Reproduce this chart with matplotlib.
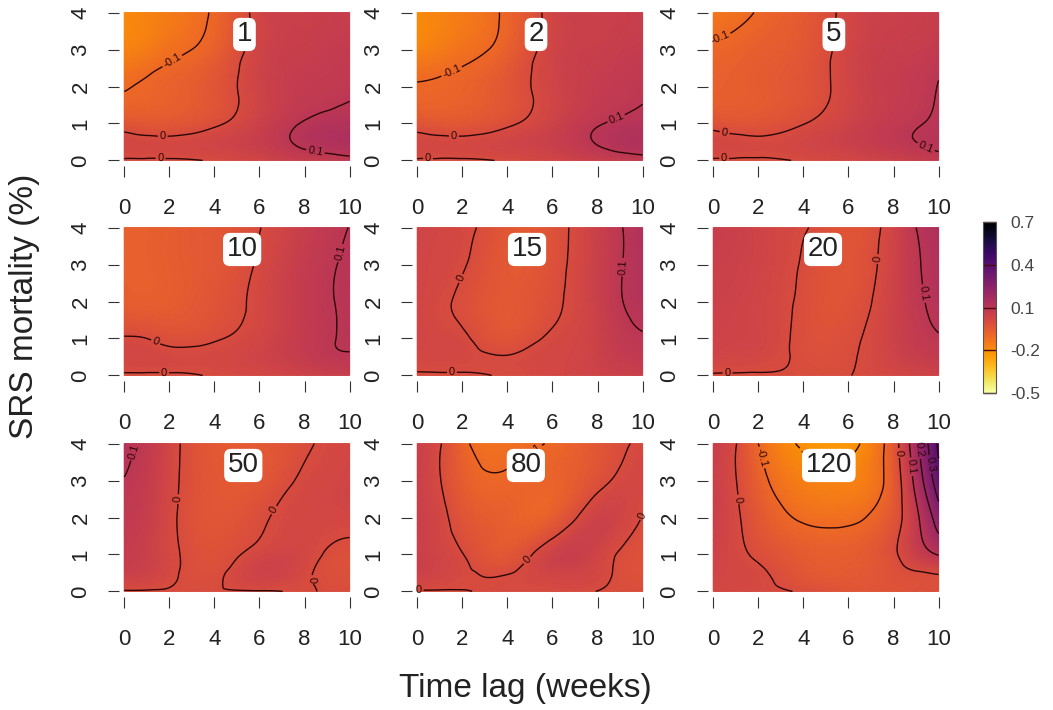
import matplotlib
matplotlib.use("Agg")
import matplotlib.pyplot as plt
import matplotlib.tri as mtri
import numpy as np

plt.rcParams['font.family'] = ['Liberation Sans', 'DejaVu Sans']

# sampling grid of the fitted surface
lag_weeks = [0, 1, 2, 4, 6, 8, 9, 10]
mortality = [4, 3, 2, 1, 0.5, 0]  # rows, top to bottom

effect_1 = [
    [-0.19, -0.17, -0.15, -0.09, 0.025, 0.05, 0.06, 0.06],
    [-0.17, -0.15, -0.12, -0.07, 0.03, 0.06, 0.07, 0.075],
    [-0.105, -0.09, -0.075, -0.035, 0.035, 0.075, 0.08, 0.09],
    [-0.03, -0.04, -0.04, -0.01, 0.045, 0.105, 0.12, 0.125],
    [0.02, 0.015, 0.015, 0.03, 0.06, 0.115, 0.13, 0.14],
    [-0.006, -0.006, -0.006, 0.004, 0.03, 0.06, 0.07, 0.08],
]
effect_2 = [
    [-0.19, -0.17, -0.15, -0.085, 0.025, 0.05, 0.055, 0.06],
    [-0.17, -0.15, -0.125, -0.07, 0.03, 0.055, 0.065, 0.07],
    [-0.095, -0.09, -0.08, -0.035, 0.03, 0.07, 0.08, 0.09],
    [-0.03, -0.04, -0.04, -0.01, 0.04, 0.095, 0.11, 0.12],
    [0.02, 0.015, 0.015, 0.03, 0.055, 0.105, 0.125, 0.135],
    [-0.006, -0.006, -0.006, 0.004, 0.025, 0.055, 0.065, 0.075],
]
effect_5 = [
    [-0.14, -0.12, -0.095, -0.05, 0.02, 0.05, 0.055, 0.06],
    [-0.09, -0.08, -0.065, -0.04, 0.025, 0.06, 0.065, 0.08],
    [-0.07, -0.065, -0.055, -0.03, 0.025, 0.07, 0.08, 0.102],
    [-0.02, -0.03, -0.03, -0.002, 0.04, 0.08, 0.095, 0.11],
    [0.02, 0.015, 0.01, 0.025, 0.05, 0.085, 0.1, 0.115],
    [-0.006, -0.006, -0.006, 0.004, 0.02, 0.045, 0.06, 0.075],
]
effect_10 = [
    [-0.07, -0.07, -0.06, -0.04, -0.002, 0.06, 0.085, 0.101],
    [-0.07, -0.07, -0.06, -0.04, 0.008, 0.07, 0.092, 0.11],
    [-0.06, -0.065, -0.06, -0.03, 0.015, 0.075, 0.095, 0.11],
    [0.005, 0.0, -0.015, -0.005, 0.025, 0.075, 0.095, 0.105],
    [0.02, 0.02, 0.015, 0.015, 0.035, 0.07, 0.09, 0.095],
    [-0.006, -0.006, -0.006, 0.004, 0.02, 0.04, 0.05, 0.06],
]
effect_15 = [
    [0.03, 0.025, 0.015, -0.04, -0.025, 0.05, 0.095, 0.13],
    [0.03, 0.02, 0.005, -0.045, -0.02, 0.05, 0.095, 0.125],
    [0.03, 0.01, -0.01, -0.045, -0.012, 0.05, 0.095, 0.12],
    [0.03, 0.02, 0.01, -0.03, 0.01, 0.045, 0.08, 0.095],
    [0.02, 0.02, 0.015, 0.003, 0.02, 0.045, 0.07, 0.08],
    [-0.006, -0.006, -0.006, 0.004, 0.02, 0.035, 0.045, 0.05],
]
effect_20 = [
    [0.06, 0.05, 0.035, 0.005, -0.03, 0.03, 0.1, 0.14],
    [0.05, 0.045, 0.035, -0.005, -0.03, 0.035, 0.09, 0.13],
    [0.045, 0.04, 0.03, -0.01, -0.025, 0.04, 0.085, 0.12],
    [0.04, 0.035, 0.03, -0.012, -0.01, 0.04, 0.075, 0.095],
    [0.03, 0.025, 0.02, -0.008, -0.005, 0.035, 0.06, 0.075],
    [-0.005, -0.005, -0.005, -0.004, -0.001, 0.02, 0.03, 0.04],
]
effect_50 = [
    [0.12, 0.08, 0.025, -0.045, -0.045, -0.01, 0.01, 0.02],
    [0.098, 0.07, 0.02, -0.04, -0.04, 0.01, 0.02, 0.03],
    [0.08, 0.06, 0.015, -0.035, -0.01, 0.02, 0.02, 0.02],
    [0.07, 0.05, 0.015, -0.02, 0.02, 0.02, -0.005, -0.015],
    [0.05, 0.04, 0.012, -0.01, 0.04, 0.01, -0.01, -0.015],
    [-0.004, -0.004, -0.003, -0.002, -0.003, 0.003, -0.004, -0.005],
]
effect_80 = [
    [0.05, 0.005, -0.08, -0.12, -0.095, -0.04, -0.01, 0.01],
    [0.05, 0.003, -0.06, -0.09, -0.08, -0.02, 0.01, 0.02],
    [0.05, 0.02, -0.03, -0.07, -0.06, 0.04, 0.03, -0.002],
    [0.05, 0.03, 0.002, -0.04, 0.04, 0.03, -0.005, -0.02],
    [0.045, 0.03, 0.01, -0.003, 0.03, 0.02, -0.01, -0.02],
    [-0.004, -0.004, -0.002, 0.01, 0.006, -0.001, -0.004, -0.005],
]
effect_120 = [
    [0.06, 0.003, -0.1, -0.21, -0.22, -0.04, 0.17, 0.42],
    [0.05, 0.002, -0.07, -0.16, -0.17, -0.05, 0.13, 0.36],
    [0.05, 0.01, -0.04, -0.11, -0.115, -0.035, 0.08, 0.25],
    [0.04, 0.015, -0.01, -0.055, -0.06, -0.01, 0.05, 0.105],
    [0.03, 0.02, 0.01, -0.04, -0.05, -0.02, -0.005, 0.005],
    [0.02, 0.015, 0.01, -0.005, -0.03, -0.025, -0.015, -0.01],
]

panel_labels = ['1', '2', '5', '10', '15', '20', '50', '80', '120']
panels = [effect_1, effect_2, effect_5, effect_10, effect_15,
          effect_20, effect_50, effect_80, effect_120]

cbar_ticks = [-0.5, -0.2, 0.1, 0.4, 0.7]
levels = np.round(np.arange(-0.5, 0.71, 0.1), 1) + 0.0

W, H = 1053, 710
fig = plt.figure(figsize=(W / 100, H / 100), dpi=100)

col_left = [122, 415, 711]
row_top = [10, 225, 441]
pw, ph = 231, 153
label_x = [0.53, 0.524, 0.532, 0.52, 0.485, 0.485, 0.525, 0.48, 0.51]

# two triangles per grid cell
xx, yy = np.meshgrid(lag_weeks, mortality)
nr, nc = xx.shape
triangles = []
for r in range(nr - 1):
    for c in range(nc - 1):
        a = r * nc + c
        triangles.append([a, a + 1, a + nc])
        triangles.append([a + 1, a + nc + 1, a + nc])
tri = mtri.Triangulation(xx.ravel(), yy.ravel(), np.array(triangles))
refiner = mtri.UniformTriRefiner(tri)


def fmt_level(v):
    return f'{v + 0.0:g}'


for i, (grid, lab) in enumerate(zip(panels, panel_labels)):
    r, c = divmod(i, 3)
    ax = fig.add_axes([col_left[c] / W, 1 - (row_top[r] + ph) / H, pw / W, ph / H])
    z = np.asarray(grid, dtype=float).ravel()
    interp = mtri.CubicTriInterpolator(tri, z, kind='min_E')
    tri_f, z_f = refiner.refine_field(z, triinterpolator=interp, subdiv=4)
    ax.tripcolor(tri_f, z_f, shading='gouraud', cmap='inferno_r', vmin=-0.5, vmax=0.7)
    cs = ax.tricontour(tri_f, z_f, levels=levels, colors='#2a0808',
                       linewidths=1.0, linestyles='solid')
    ax.clabel(cs, fmt=fmt_level, fontsize=8, inline=True, inline_spacing=2)

    ax.set_xlim(-0.1, 10.15)
    ax.set_ylim(-0.07, 4.07)
    ax.set_xticks(range(0, 11, 2))
    ax.set_yticks(range(5))
    for side in ['top', 'right']:
        ax.spines[side].set_visible(False)
    for side in ['bottom', 'left']:
        ax.spines[side].set_position(('outward', 2))
        ax.spines[side].set_visible(False)
    ax.tick_params(length=8, width=0.8, color='#333333', labelsize=16,
                   labelcolor='#222222')
    ax.tick_params(axis='x', pad=15)
    ax.tick_params(axis='y', pad=12)
    for t in ax.get_yticklabels():
        t.set_rotation(90)
        t.set_va('center')

    ax.text(label_x[i], 0.84, lab, transform=ax.transAxes, ha='center', va='center',
            fontsize=20, color='#222222', zorder=5,
            bbox=dict(boxstyle='round,pad=0.13,rounding_size=0.25', fc='white', ec='none'))

# colour key
cax = fig.add_axes([983 / W, 1 - 393 / H, 13 / W, 171 / H])
sm = plt.cm.ScalarMappable(cmap='inferno_r', norm=plt.Normalize(-0.5, 0.7))
cb = fig.colorbar(sm, cax=cax)
cb.set_ticks(cbar_ticks)
cb.set_ticklabels([f'{t:g}' for t in cbar_ticks])
cb.outline.set_edgecolor('#555555')
cb.outline.set_linewidth(0.8)
cb.ax.tick_params(direction='in', length=9.4, width=1, color='#4a0c0c',
                  labelsize=12.5, labelcolor='#444444', pad=10)

fig.text(25 / W, 1 - 306 / H, 'SRS mortality (%)', rotation=90, ha='center',
         va='center', fontsize=24, color='#222222')
fig.text(525 / W, 1 - 688 / H, 'Time lag (weeks)', ha='center', va='center',
         fontsize=24, color='#222222')

fig.savefig('out.png', dpi=100)
